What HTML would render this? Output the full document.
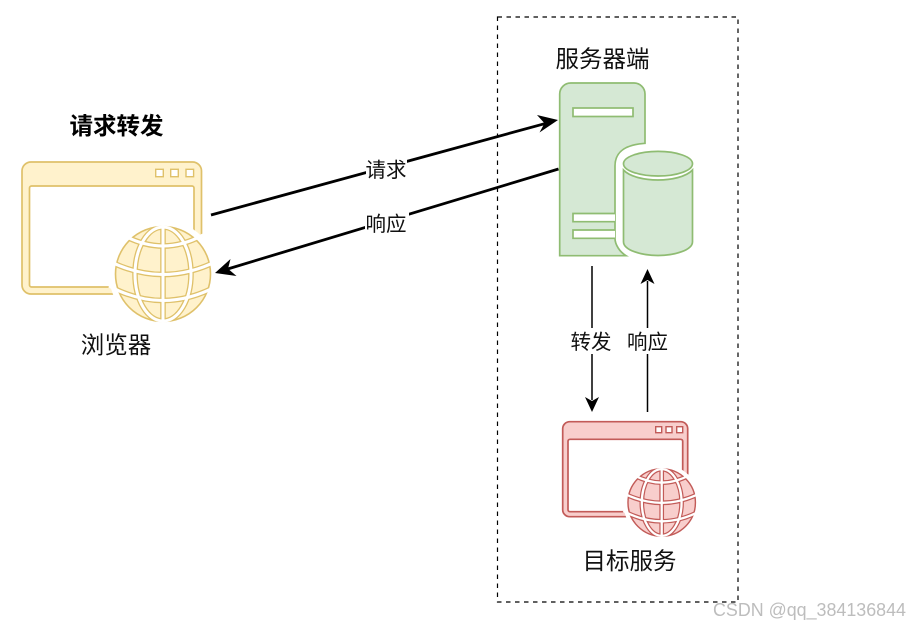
<!DOCTYPE html>
<html>
<head>
<meta charset="utf-8">
<style>
html,body{margin:0;padding:0;background:#fff;width:909px;height:625px;overflow:hidden}
svg{display:block;filter:blur(.3px)}
text{font-family:"Liberation Sans","Noto Sans CJK SC",sans-serif;fill:#111}
</style>
</head>
<body>
<svg width="909" height="625" viewBox="0 0 909 625" xmlns="http://www.w3.org/2000/svg">
<defs>
<g id="gl-lines" fill="none">
  <path d="M0,-54V54"/>
  <ellipse cx="0" cy="0" rx="28" ry="47"/>
  <path d="M-40,-39Q0,-17 40,-39"/>
  <path d="M-54,-13Q0,14 54,-13"/>
  <path d="M-54,12Q0,41 54,12"/>
</g>
<clipPath id="gl-clip"><circle r="47"/></clipPath>
</defs>

<!-- dashed boundary -->
<rect x="497.5" y="17" width="240.5" height="585" fill="none" stroke="#000" stroke-width="1.2" stroke-dasharray="4.5 4.5"/>

<!-- yellow window -->
<rect x="22" y="162" width="179.5" height="132" rx="9" fill="#fff2cc" stroke="#dfc16a" stroke-width="1.7"/>
<rect x="29.5" y="186" width="164.5" height="101" rx="2" fill="#fff" stroke="#dfc16a" stroke-width="1.7"/>
<g fill="#fff" stroke="#dfc16a" stroke-width="1.4">
  <rect x="155.7" y="169.3" width="7.6" height="7.4"/>
  <rect x="170.7" y="169.3" width="7.6" height="7.4"/>
  <rect x="186" y="169.3" width="7.6" height="7.4"/>
</g>
<circle cx="163" cy="274" r="54" fill="#fff"/>
<g transform="translate(163,274)">
  <circle r="47.5" fill="#fff2cc" stroke="#dfc16a" stroke-width="1.6"/>
  <g clip-path="url(#gl-clip)"><use href="#gl-lines" stroke="#dfc16a" stroke-width="5.6"/></g>
  <use href="#gl-lines" stroke="#fff" stroke-width="3"/>
</g>

<!-- server -->
<path d="M559.7,255.7V94a11,11 0 0 1 11,-11H634a11,11 0 0 1 11,11V143.3C628,144.5 615,150 615,166V238.3C615,245 620,252 626,255.7Z" fill="#d5e8d4" stroke="#8fbc72" stroke-width="1.7"/>
<g fill="#fff" stroke="#8fbc72" stroke-width="1.7">
  <rect x="573" y="108" width="60" height="8.5"/>
  <path d="M615,213.5H573V221.7H615"/>
  <path d="M615,230H573V238.3H615"/>
</g>
<g fill="#d5e8d4" stroke="#8fbc72" stroke-width="1.7">
  <ellipse cx="658" cy="163.7" rx="34.5" ry="12.3"/>
  <path d="M623.5,170C630,177 645,180 658,180S686,177 692.5,170V241.7C692.5,250 675,255.5 658,255.5S623.5,250 623.5,241.7Z"/>
</g>

<!-- red window -->
<rect x="562.7" y="421.7" width="125" height="95" rx="7" fill="#f8cecc" stroke="#c25b58" stroke-width="1.7"/>
<rect x="568" y="439.3" width="114.7" height="72.4" rx="2" fill="#fff" stroke="#c25b58" stroke-width="1.7"/>
<g fill="#fff" stroke="#c25b58" stroke-width="1.4">
  <rect x="655.7" y="426.7" width="6" height="6"/>
  <rect x="666" y="426.7" width="6" height="6"/>
  <rect x="676.7" y="426.7" width="6" height="6"/>
</g>
<circle cx="661.7" cy="502.5" r="38.5" fill="#fff"/>
<g transform="translate(661.7,502.5) scale(.71)">
  <circle r="47.5" fill="#f8cecc" stroke="#c25b58" stroke-width="2"/>
  <g clip-path="url(#gl-clip)"><use href="#gl-lines" stroke="#c25b58" stroke-width="6.6"/></g>
  <use href="#gl-lines" stroke="#fff" stroke-width="3.2"/>
</g>

<!-- connectors -->
<g stroke="#000" fill="none">
  <path d="M211,215L546,123.3" stroke-width="2.8"/>
  <path d="M558.5,169L226,269.5" stroke-width="2.8"/>
  <path d="M592,266V400" stroke-width="1.5"/>
  <path d="M647.5,412V281" stroke-width="1.5"/>
</g>
<g fill="#000">
  <path d="M558,120L539.5,132.5L544.5,123.3L537,115Z"/>
  <path d="M215,273L230.5,259L228,268.8L236.5,276Z"/>
  <path d="M592,412L585,397L592,401L599,397Z"/>
  <path d="M647.5,269L640.5,284L647.5,280L654.5,284Z"/>
</g>

<!-- connector labels -->
<g fill="#fff">
  <rect x="366" y="157" width="41" height="26"/>
  <rect x="365" y="211" width="44" height="26"/>
  <rect x="570" y="328" width="43" height="26"/>
  <rect x="626" y="328" width="43" height="26"/>
</g>
<g font-size="20.5" text-anchor="middle">
  <text x="386" y="177">请求</text>
  <text x="386" y="231">响应</text>
  <text x="591" y="349">转发</text>
  <text x="647.5" y="349">响应</text>
</g>

<!-- node labels -->
<g font-size="23.5" text-anchor="middle">
  <text x="116" y="353">浏览器</text>
  <text x="602.5" y="67">服务器端</text>
  <text x="629.5" y="569">目标服务</text>
</g>
<text x="116.5" y="134" font-size="23.5" font-weight="bold" text-anchor="middle" style="fill:#000">请求转发</text>

<!-- watermark -->
<text x="713" y="616" font-size="18.5" textLength="193" lengthAdjust="spacingAndGlyphs" style="fill:#bdbdbd">CSDN @qq_384136844</text>
</svg>
</body>
</html>
